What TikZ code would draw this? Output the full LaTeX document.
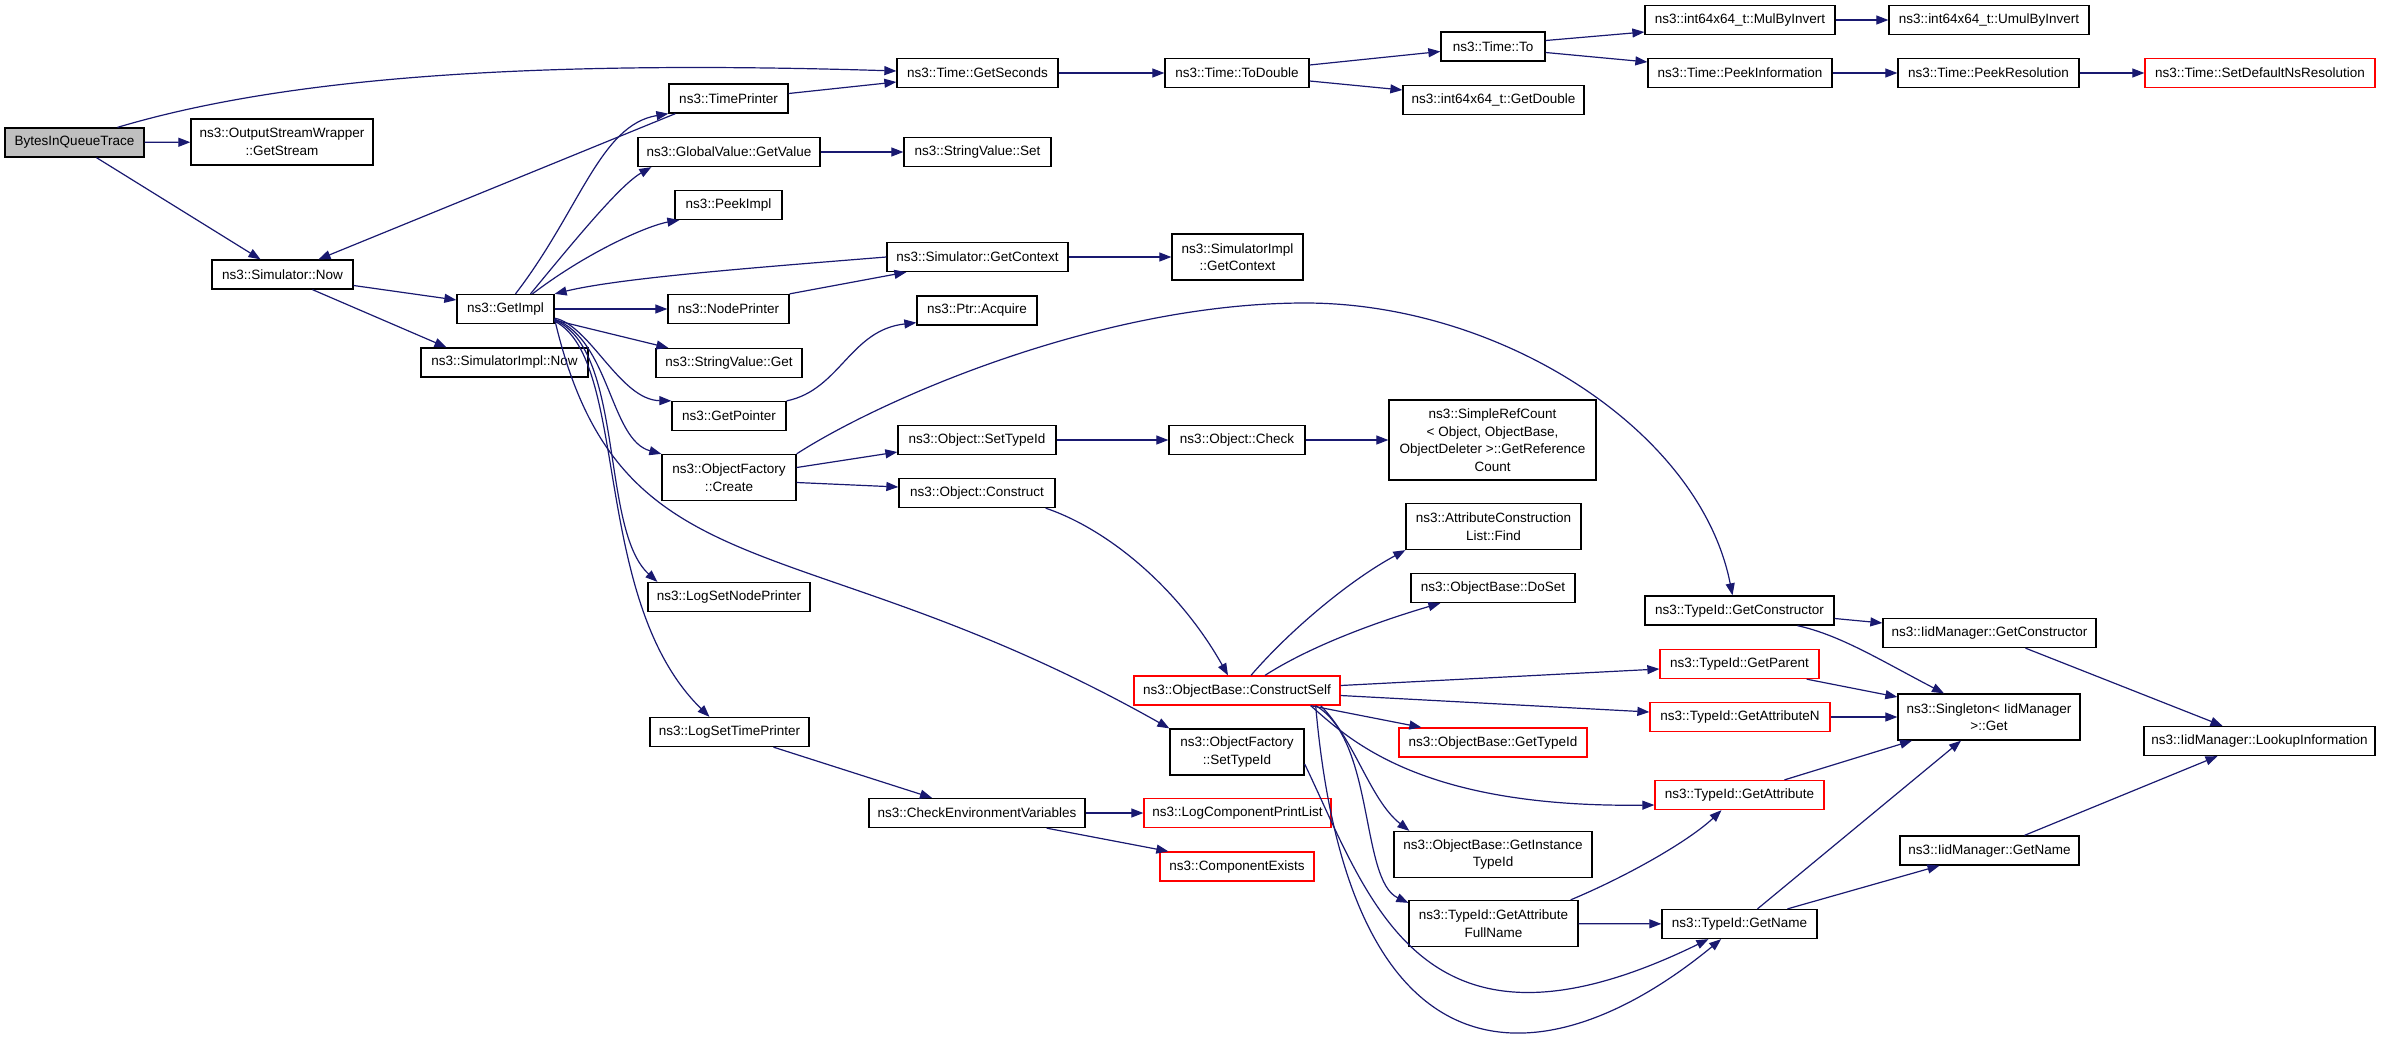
\documentclass[tikz,border=0pt]{standalone}
\usepackage{fontspec}
\setmainfont{Liberation Sans}
\usetikzlibrary{arrows.meta}
\definecolor{callblue}{HTML}{191970}

\begin{document}
\begin{tikzpicture}[x=1pt,y=-1pt]
 \tikzset{fn box/.style={
    draw=black,
    line width=1.3pt,
    minimum width=#1,
    minimum height=29pt,
    inner sep=0pt,
    align=center,
    font=\fontsize{13.5}{17.5}\selectfont
  },
  fn box/.default=120pt,
  two lines/.style={minimum height=46pt},
  red box/.style={draw=red},
  root box/.style={fill=black!25},
  call edge/.style={draw=callblue, line width=1.2pt,
    -{Triangle[length=12pt,width=9pt]}}
}
\useasboundingbox (0,0) rectangle (2381,1039);

% callers and first ranks
\node[fn box=139pt, root box] (trace) at (74.5,142.5) {BytesInQueueTrace};
\node[fn box=182pt, two lines] (getstream) at (282,142) {ns3::OutputStreamWrapper\\::GetStream};
\node[fn box=141pt] (simnow) at (282.5,274.5) {ns3::Simulator::Now};
\node[fn box=97pt] (getimpl) at (505.5,309) {ns3::GetImpl};
\node[fn box=167pt] (simimplnow) at (504.5,362.5) {ns3::SimulatorImpl::Now};
\node[fn box=119pt] (timeprinter) at (728.5,98.5) {ns3::TimePrinter};
\node[fn box=182pt] (globalvalue) at (729,152) {ns3::GlobalValue::GetValue};
\node[fn box=107pt] (peekimpl) at (728.5,205) {ns3::PeekImpl};
\node[fn box=121pt] (nodeprinter) at (728.5,309) {ns3::NodePrinter};
\node[fn box=146pt] (stringget) at (729,363) {ns3::StringValue::Get};
\node[fn box=114pt] (getpointer) at (729,416) {ns3::GetPointer};
\node[fn box=134pt, two lines] (ofcreate) at (729,477.5) {ns3::ObjectFactory\\::Create};
\node[fn box=162pt] (lognode) at (729,597) {ns3::LogSetNodePrinter};
\node[fn box=159pt] (logtime) at (729.5,732) {ns3::LogSetTimePrinter};
\node[fn box=161pt] (getseconds) at (977.5,73) {ns3::Time::GetSeconds};
\node[fn box=147pt] (stringset) at (977.5,152) {ns3::StringValue::Set};
\node[fn box=181pt] (getcontext) at (977.5,257) {ns3::Simulator::GetContext};
\node[fn box=120pt] (ptracquire) at (977,310.5) {ns3::Ptr::Acquire};
\node[fn box=158pt] (objsettypeid) at (977,440) {ns3::Object::SetTypeId};
\node[fn box=156pt] (objconstruct) at (977,493) {ns3::Object::Construct};
\node[fn box=216pt] (checkenv) at (977,813) {ns3::CheckEnvironmentVariables};
\node[fn box=144pt] (todouble) at (1237,73) {ns3::Time::ToDouble};
\node[fn box=131pt, two lines] (implcontext) at (1237.5,257) {ns3::SimulatorImpl\\::GetContext};
\node[fn box=136pt] (objcheck) at (1237,440) {ns3::Object::Check};
\node[fn box=206pt, red box] (constructself) at (1237,690.5) {ns3::ObjectBase::ConstructSelf};
\node[fn box=134pt, two lines] (ofsettypeid) at (1237,752) {ns3::ObjectFactory\\::SetTypeId};
\node[fn box=187pt, red box] (logprintlist) at (1237.5,813) {ns3::LogComponentPrintList};
\node[fn box=154pt, red box] (compexists) at (1237,866.5) {ns3::ComponentExists};
\node[fn box=104pt] (timeto) at (1493,46.5) {ns3::Time::To};
\node[fn box=181pt] (getdouble) at (1493.5,100) {ns3::int64x64\_t::GetDouble};
\node[fn box=207pt, minimum height=80pt] (refcount) at (1492.5,440) {ns3::SimpleRefCount\\< Object, ObjectBase,\\ObjectDeleter >::GetReference\\Count};
\node[fn box=175pt, two lines] (attrfind) at (1493.5,526.5) {ns3::AttributeConstruction\\List::Find};
\node[fn box=164pt] (doset) at (1493,588) {ns3::ObjectBase::DoSet};
\node[fn box=188pt, red box] (objgettypeid) at (1493,742.5) {ns3::ObjectBase::GetTypeId};
\node[fn box=198pt, two lines] (instancetypeid) at (1493,854.5) {ns3::ObjectBase::GetInstance\\TypeId};
\node[fn box=169pt, two lines] (attrfullname) at (1493.5,923.5) {ns3::TypeId::GetAttribute\\FullName};
\node[fn box=190pt] (mulbyinvert) at (1740,20) {ns3::int64x64\_t::MulByInvert};
\node[fn box=184pt] (peekinfo) at (1740,73) {ns3::Time::PeekInformation};
\node[fn box=189pt] (getconstructor) at (1739.5,610.5) {ns3::TypeId::GetConstructor};
\node[fn box=159pt, red box] (getparent) at (1739.5,664) {ns3::TypeId::GetParent};
\node[fn box=180pt, red box] (getattrn) at (1740,717) {ns3::TypeId::GetAttributeN};
\node[fn box=169pt, red box] (getattribute) at (1739.5,795) {ns3::TypeId::GetAttribute};
\node[fn box=155pt] (getname) at (1739.5,924) {ns3::TypeId::GetName};
\node[fn box=200pt] (umulbyinvert) at (1989,20) {ns3::int64x64\_t::UmulByInvert};
\node[fn box=181pt] (peekres) at (1988.5,73) {ns3::Time::PeekResolution};
\node[fn box=213pt] (iidconstructor) at (1989.5,633) {ns3::IidManager::GetConstructor};
\node[fn box=182pt, two lines] (singleton) at (1989,717) {ns3::Singleton< IidManager\\>::Get};
\node[fn box=179pt] (iidname) at (1989.5,850.5) {ns3::IidManager::GetName};
\node[fn box=230pt, red box] (nsresolution) at (2260,73) {ns3::Time::SetDefaultNsResolution};
\node[fn box=231pt] (lookupinfo) at (2259.5,741) {ns3::IidManager::LookupInformation};

% calls
\draw[call edge] ([xshift=43pt]trace.north) .. controls (260,85) and (480,58) .. ([yshift=2pt]getseconds.west);
\draw[call edge] (trace) -- (getstream);
\draw[call edge] ([xshift=22pt]trace.south) -- ([xshift=-22pt]simnow.north);
\draw[call edge] ([xshift=7pt]timeprinter.south west) -- ([xshift=36pt]simnow.north);
\draw[call edge] ([yshift=5pt]timeprinter.east) -- ([yshift=-9pt]getseconds.west);
\draw[call edge] ([yshift=-11pt]simnow.east) -- ([yshift=9pt]getimpl.west);
\draw[call edge] ([xshift=30pt]simnow.south) -- ([xshift=-58pt]simimplnow.north);
\draw[call edge] ([xshift=10pt]getimpl.north) .. controls (580,210) and (600,125) .. (timeprinter.south west);
\draw[call edge] ([xshift=25pt]getimpl.north) .. controls (575,240) and (620,185) .. ([xshift=14pt]globalvalue.south west);
\draw[call edge] ([xshift=27pt]getimpl.north) .. controls (590,250) and (650,225) .. ([xshift=5pt]peekimpl.south west);
\draw[call edge] (getcontext.west) .. controls (750,268) and (620,278) .. (getimpl.north east);
\draw[call edge] (getimpl) -- (nodeprinter);
\draw[call edge] (nodeprinter.north east) -- ([xshift=20pt]getcontext.south west);
\draw[call edge] (getcontext) -- (implcontext);
\draw[call edge] (globalvalue) -- (stringset);
\draw[call edge] ([yshift=4pt]getimpl.south east) -- ([xshift=13pt]stringget.north west);
\draw[call edge] ([yshift=6pt]getimpl.south east) .. controls (590,325) and (620,400) .. (getpointer.north west);
\draw[call edge] (getpointer.north east) .. controls (840,390) and (850,330) .. ([yshift=3pt]ptracquire.south west);
\draw[call edge] ([yshift=5pt]getimpl.south east) .. controls (610,340) and (610,440) .. (ofcreate.north west);
\draw[call edge] ([yshift=4pt]getimpl.south east) .. controls (625,350) and (600,530) .. ([xshift=10pt]lognode.north west);
\draw[call edge] ([yshift=3pt]getimpl.south east) .. controls (630,360) and (590,600) .. ([xshift=-20pt]logtime.north);
\draw[call edge] ([yshift=5pt]getimpl.south east) .. controls (620,600) and (800,520) .. (ofsettypeid.north west);
\draw[call edge] (ofcreate.north east) .. controls (880,400) and (1100,303) .. (1305,303)
  .. controls (1500,303) and (1700,430) .. ([xshift=-7pt]getconstructor.north);
\draw[call edge] ([yshift=10pt]ofcreate.east) -- ([yshift=-12pt]objsettypeid.west);
\draw[call edge] ([yshift=-5pt]ofcreate.east) -- ([yshift=6pt]objconstruct.west);
\draw[call edge] (objsettypeid) -- (objcheck);
\draw[call edge] (objcheck) -- (refcount);
\draw[call edge] ([xshift=-10pt]objconstruct.south east) .. controls (1110,530) and (1180,590) .. ([xshift=-9pt]constructself.north);
\draw[call edge] ([xshift=14pt]constructself.north) .. controls (1290,630) and (1350,580) .. (attrfind.south west);
\draw[call edge] ([xshift=28pt]constructself.north) .. controls (1320,640) and (1400,615) .. ([xshift=30pt]doset.south west);
\draw[call edge] ([yshift=5pt]constructself.east) -- ([yshift=-5pt]getparent.west);
\draw[call edge] ([yshift=-5pt]constructself.east) -- ([yshift=5pt]getattrn.west);
\draw[call edge] ([xshift=-30pt]constructself.south east) -- ([xshift=23pt]objgettypeid.north west);
\draw[call edge] ([xshift=-30pt]constructself.south east) .. controls (1350,740) and (1420,808) .. ([yshift=-10pt]getattribute.west);
\draw[call edge] ([xshift=-20pt]constructself.south east) .. controls (1355,740) and (1370,800) .. ([xshift=16pt]instancetypeid.north west);
\draw[call edge] ([xshift=-25pt]constructself.south east) .. controls (1375,740) and (1360,880) .. ([yshift=-3pt]attrfullname.north west);
\draw[call edge] ([xshift=-25pt]constructself.south east) .. controls (1350,1100) and (1550,1080) .. (getname);
\draw[call edge] ([yshift=-12pt]ofsettypeid.east) .. controls (1370,900) and (1420,1080) .. (getname);
\draw[call edge] ([xshift=44pt]logtime.south) -- ([xshift=-45pt]checkenv.north);
\draw[call edge] (checkenv) -- (logprintlist);
\draw[call edge] ([xshift=-39pt]checkenv.south east) -- ([xshift=9pt]compexists.north west);
\draw[call edge] (getseconds) -- (todouble);
\draw[call edge] ([yshift=8pt]todouble.east) -- ([yshift=-5pt]timeto.west);
\draw[call edge] ([yshift=-8pt]todouble.east) -- ([yshift=10pt]getdouble.west);
\draw[call edge] ([yshift=6pt]timeto.east) -- ([yshift=-12pt]mulbyinvert.west);
\draw[call edge] ([yshift=-6pt]timeto.east) -- ([yshift=11pt]peekinfo.west);
\draw[call edge] (mulbyinvert) -- (umulbyinvert);
\draw[call edge] (peekinfo) -- (peekres);
\draw[call edge] (peekres) -- (nsresolution);
\draw[call edge] ([yshift=-8pt]getconstructor.east) -- ([yshift=10pt]iidconstructor.west);
\draw[call edge] ([xshift=58pt]getconstructor.south) .. controls (1840,635) and (1880,660) .. ([xshift=-45pt]singleton.north);
\draw[call edge] ([xshift=36pt]iidconstructor.south) -- ([xshift=-37pt]lookupinfo.north);
\draw[call edge] ([xshift=-13pt]getparent.south east) -- ([yshift=20pt]singleton.west);
\draw[call edge] (getattrn) -- (singleton);
\draw[call edge] ([xshift=45pt]getattribute.north) -- ([xshift=-77pt]singleton.south);
\draw[call edge] ([xshift=18pt]getname.north) -- ([xshift=-28pt]singleton.south);
\draw[call edge] ([xshift=48pt]getname.north) -- ([xshift=-50pt]iidname.south);
\draw[call edge] ([xshift=35pt]iidname.north) -- ([xshift=-42pt]lookupinfo.south);
\draw[call edge] ([xshift=-8pt]attrfullname.north east) .. controls (1630,875) and (1690,840) .. ([xshift=-18pt]getattribute.south);
\draw[call edge] (attrfullname) -- (getname);
\end{tikzpicture}
\end{document}
